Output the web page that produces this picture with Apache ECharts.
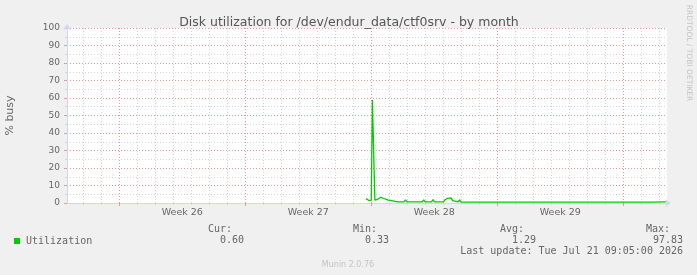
<!DOCTYPE html>
<html>
<head>
<meta charset="utf-8">
<script src="https://cdn.jsdelivr.net/npm/echarts@6/dist/echarts.min.js"></script>
<style>
html,body{margin:0;padding:0;background:#f0f0f0;}
#chart{width:697px;height:275px;}
</style>
</head>
<body>
<div id="chart"></div>
<script>
// x values are days counted from the start of "Week 26"
const xMin = -2.906;
const xMax = 30.43;
const dayTicks = [-2,-1,1,2,3,4,5,6,8,9,10,11,12,13,15,16,17,18,19,20,22,23,24,25,26,27,29,30];
const weekTicks = [0, 7, 14, 21, 28];
const weekLabelPos = [3.5, 10.5, 17.5, 24.5];
const weekLabels = ['Week 26', 'Week 27', 'Week 28', 'Week 29'];
const yTicks = [0,10,20,30,40,50,60,70,80,90,100];

const days = [
  13.71, 13.79, 13.87, 13.93, 14.00, 14.06, 14.13, 14.20, 14.27, 14.33, 14.44, 14.54, 14.63, 14.76, 14.94, 15.13, 15.32,
  15.41, 15.49,
  15.82, 15.90, 15.98,
  16.33, 16.41, 16.49,
  16.83, 16.91, 16.99,
  17.35, 17.43, 17.51,
  18.01, 18.09, 18.22, 18.33, 18.43, 18.52, 18.60,
  18.83, 18.91, 18.99,
  21.31, 21.39, 21.47,
  22.33, 22.41, 22.49,
  23.33, 23.41, 23.49,
  24.33, 24.41, 24.49,
  25.33, 25.41, 25.49,
  25.83, 25.91, 25.99,
  26.33, 26.41, 26.49,
  27.33, 27.41, 27.49,
  28.33, 28.41, 28.49,
  29.33, 29.41, 29.49,
  30.37
];
const util = [
  2.5, 1.6, 1.4, 2.5, 1.6, 58.9, 58.9, 1.7, 2.4, 2.0, 2.7, 3.3, 2.5, 2.3, 1.7, 1.3, 0.9,
  1.3, 0.6,
  0.6, 1.8, 0.6,
  0.6, 1.6, 0.6,
  0.6, 1.8, 0.6,
  0.6, 2.0, 0.6,
  0.6, 1.8, 2.6, 3.3, 2.9, 1.4, 0.6,
  0.6, 1.8, 0.5,
  0.5, 1.5, 0.5,
  0.5, 1.5, 0.5,
  0.5, 1.5, 0.5,
  0.5, 1.5, 0.5,
  0.5, 1.5, 0.5,
  0.5, 1.5, 0.5,
  0.5, 1.5, 0.5,
  0.5, 1.5, 0.5,
  0.5, 1.5, 0.5,
  0.5, 1.5, 0.5,
  0.6
];

const legendName = 'Utilization';
const statHeads = ['Cur:', 'Min:', 'Avg:', 'Max:'];
const statVals = ['0.60', '0.33', '1.29', '97.83'];
const lastUpdate = 'Last update: Tue Jul 21 09:05:00 2026';

const FONT_COL = '#666666';
const AXIS_COL = '#CFD6F8';
const MGRID = 'rgb(240,150,150)';
const GRID = 'rgb(212,212,212)';
const DASH = [1, 2];
const mono = '"DejaVu Sans Mono", monospace';
const sans = '"DejaVu Sans", sans-serif';

const chart = echarts.init(document.getElementById('chart'), null, {renderer: 'canvas'});

const statRight = [232, 377, 524, 670];
const statValRight = [244, 389, 536, 683];
const graphics = [];
statHeads.forEach((h, i) => {
  graphics.push({type: 'text', x: statRight[i], y: 229, style: {text: h, fill: FONT_COL, font: '10px ' + mono, align: 'right', verticalAlign: 'middle'}});
  graphics.push({type: 'text', x: statValRight[i], y: 240, style: {text: statVals[i], fill: FONT_COL, font: '10px ' + mono, align: 'right', verticalAlign: 'middle'}});
});
graphics.push({type: 'text', x: 683, y: 251.5, style: {text: lastUpdate, fill: FONT_COL, font: '10px ' + mono, align: 'right', verticalAlign: 'middle'}});
graphics.push({type: 'text', x: 348, y: 264.5, style: {text: 'Munin 2.0.76', fill: '#c4c4c4', font: '8px ' + sans, align: 'center', verticalAlign: 'middle'}});
graphics.push({type: 'text', x: 689, y: 53, rotation: -Math.PI / 2, style: {text: 'RRDTOOL / TOBI OETIKER', fill: '#c4c4c4', font: '7.5px ' + sans, align: 'center', verticalAlign: 'middle'}});
graphics.push({type: 'text', x: 10, y: 115.5, rotation: Math.PI / 2, style: {text: '% busy', fill: FONT_COL, font: '11px ' + sans, align: 'center', verticalAlign: 'middle'}});

chart.setOption({
  animation: false,
  backgroundColor: '#f0f0f0',
  title: {
    text: 'Disk utilization for /dev/endur_data/ctf0srv - by month',
    left: 344, top: 11, textAlign: 'center',
    textStyle: {fontFamily: sans, fontSize: 12.5, fontWeight: 'normal', color: '#555555'}
  },
  legend: {
    data: [{name: legendName, icon: 'rect'}],
    left: 9, top: 231, itemWidth: 6, itemHeight: 6, itemGap: 10,
    textStyle: {fontFamily: mono, fontSize: 10, color: FONT_COL, padding: [0,0,0,1]}
  },
  graphic: graphics,
  grid: {left: 67, right: 30, top: 28, bottom: 72, show: true, backgroundColor: '#ffffff', borderWidth: 0, containLabel: false},
  xAxis: [
    {
      type: 'value', min: xMin, max: xMax, position: 'bottom',
      axisLine: {show: true, onZero: false, lineStyle: {color: AXIS_COL, width: 1}, symbol: ['none', 'arrow'], symbolSize: [6, 6], symbolOffset: [0, 4]},
      axisTick: {show: true, customValues: dayTicks, length: 2, lineStyle: {color: GRID}},
      splitLine: {show: true, lineStyle: {color: GRID, type: DASH, width: 1, opacity: 1}},
      axisLabel: {show: true, customValues: weekLabelPos, formatter: v => weekLabels[weekLabelPos.indexOf(v)] || '', fontFamily: sans, fontSize: 9.5, color: FONT_COL, margin: 5}
    },
    {
      type: 'value', min: xMin, max: xMax, position: 'bottom', offset: 0,
      axisLine: {show: false, onZero: false},
      axisTick: {show: true, customValues: weekTicks, length: 3, lineStyle: {color: MGRID}},
      splitLine: {show: true, lineStyle: {color: MGRID, type: DASH, width: 1, opacity: 1}},
      axisLabel: {show: false}
    }
  ],
  yAxis: {
    type: 'value', min: 0, max: 100, interval: 10,
    axisLine: {show: true, onZero: false, lineStyle: {color: AXIS_COL, width: 1}, symbol: ['none', 'arrow'], symbolSize: [6, 6], symbolOffset: [0, 4]},
    axisTick: {show: true, length: 3, lineStyle: {color: MGRID}},
    minorTick: {show: true, splitNumber: 2, length: 2, lineStyle: {color: GRID}},
    splitLine: {show: true, lineStyle: {color: MGRID, type: DASH, width: 1, opacity: 1}},
    minorSplitLine: {show: true, lineStyle: {color: GRID, type: DASH, width: 1, opacity: 1}},
    axisLabel: {fontFamily: sans, fontSize: 9, color: FONT_COL, margin: 7, formatter: v => yTicks.indexOf(v) >= 0 ? String(v) : ''}
  },
  series: [{
    name: legendName,
    type: 'line',
    xAxisIndex: 0,
    data: days.map((d, i) => [d, util[i]]),
    showSymbol: false,
    symbol: 'none',
    lineStyle: {color: '#00cc00', width: 1.3},
    itemStyle: {color: '#00cc00'},
    z: 5
  }, {
    name: 'weekgrid',
    type: 'line',
    xAxisIndex: 1,
    data: [],
    silent: true
  }]
});
</script>
</body>
</html>
